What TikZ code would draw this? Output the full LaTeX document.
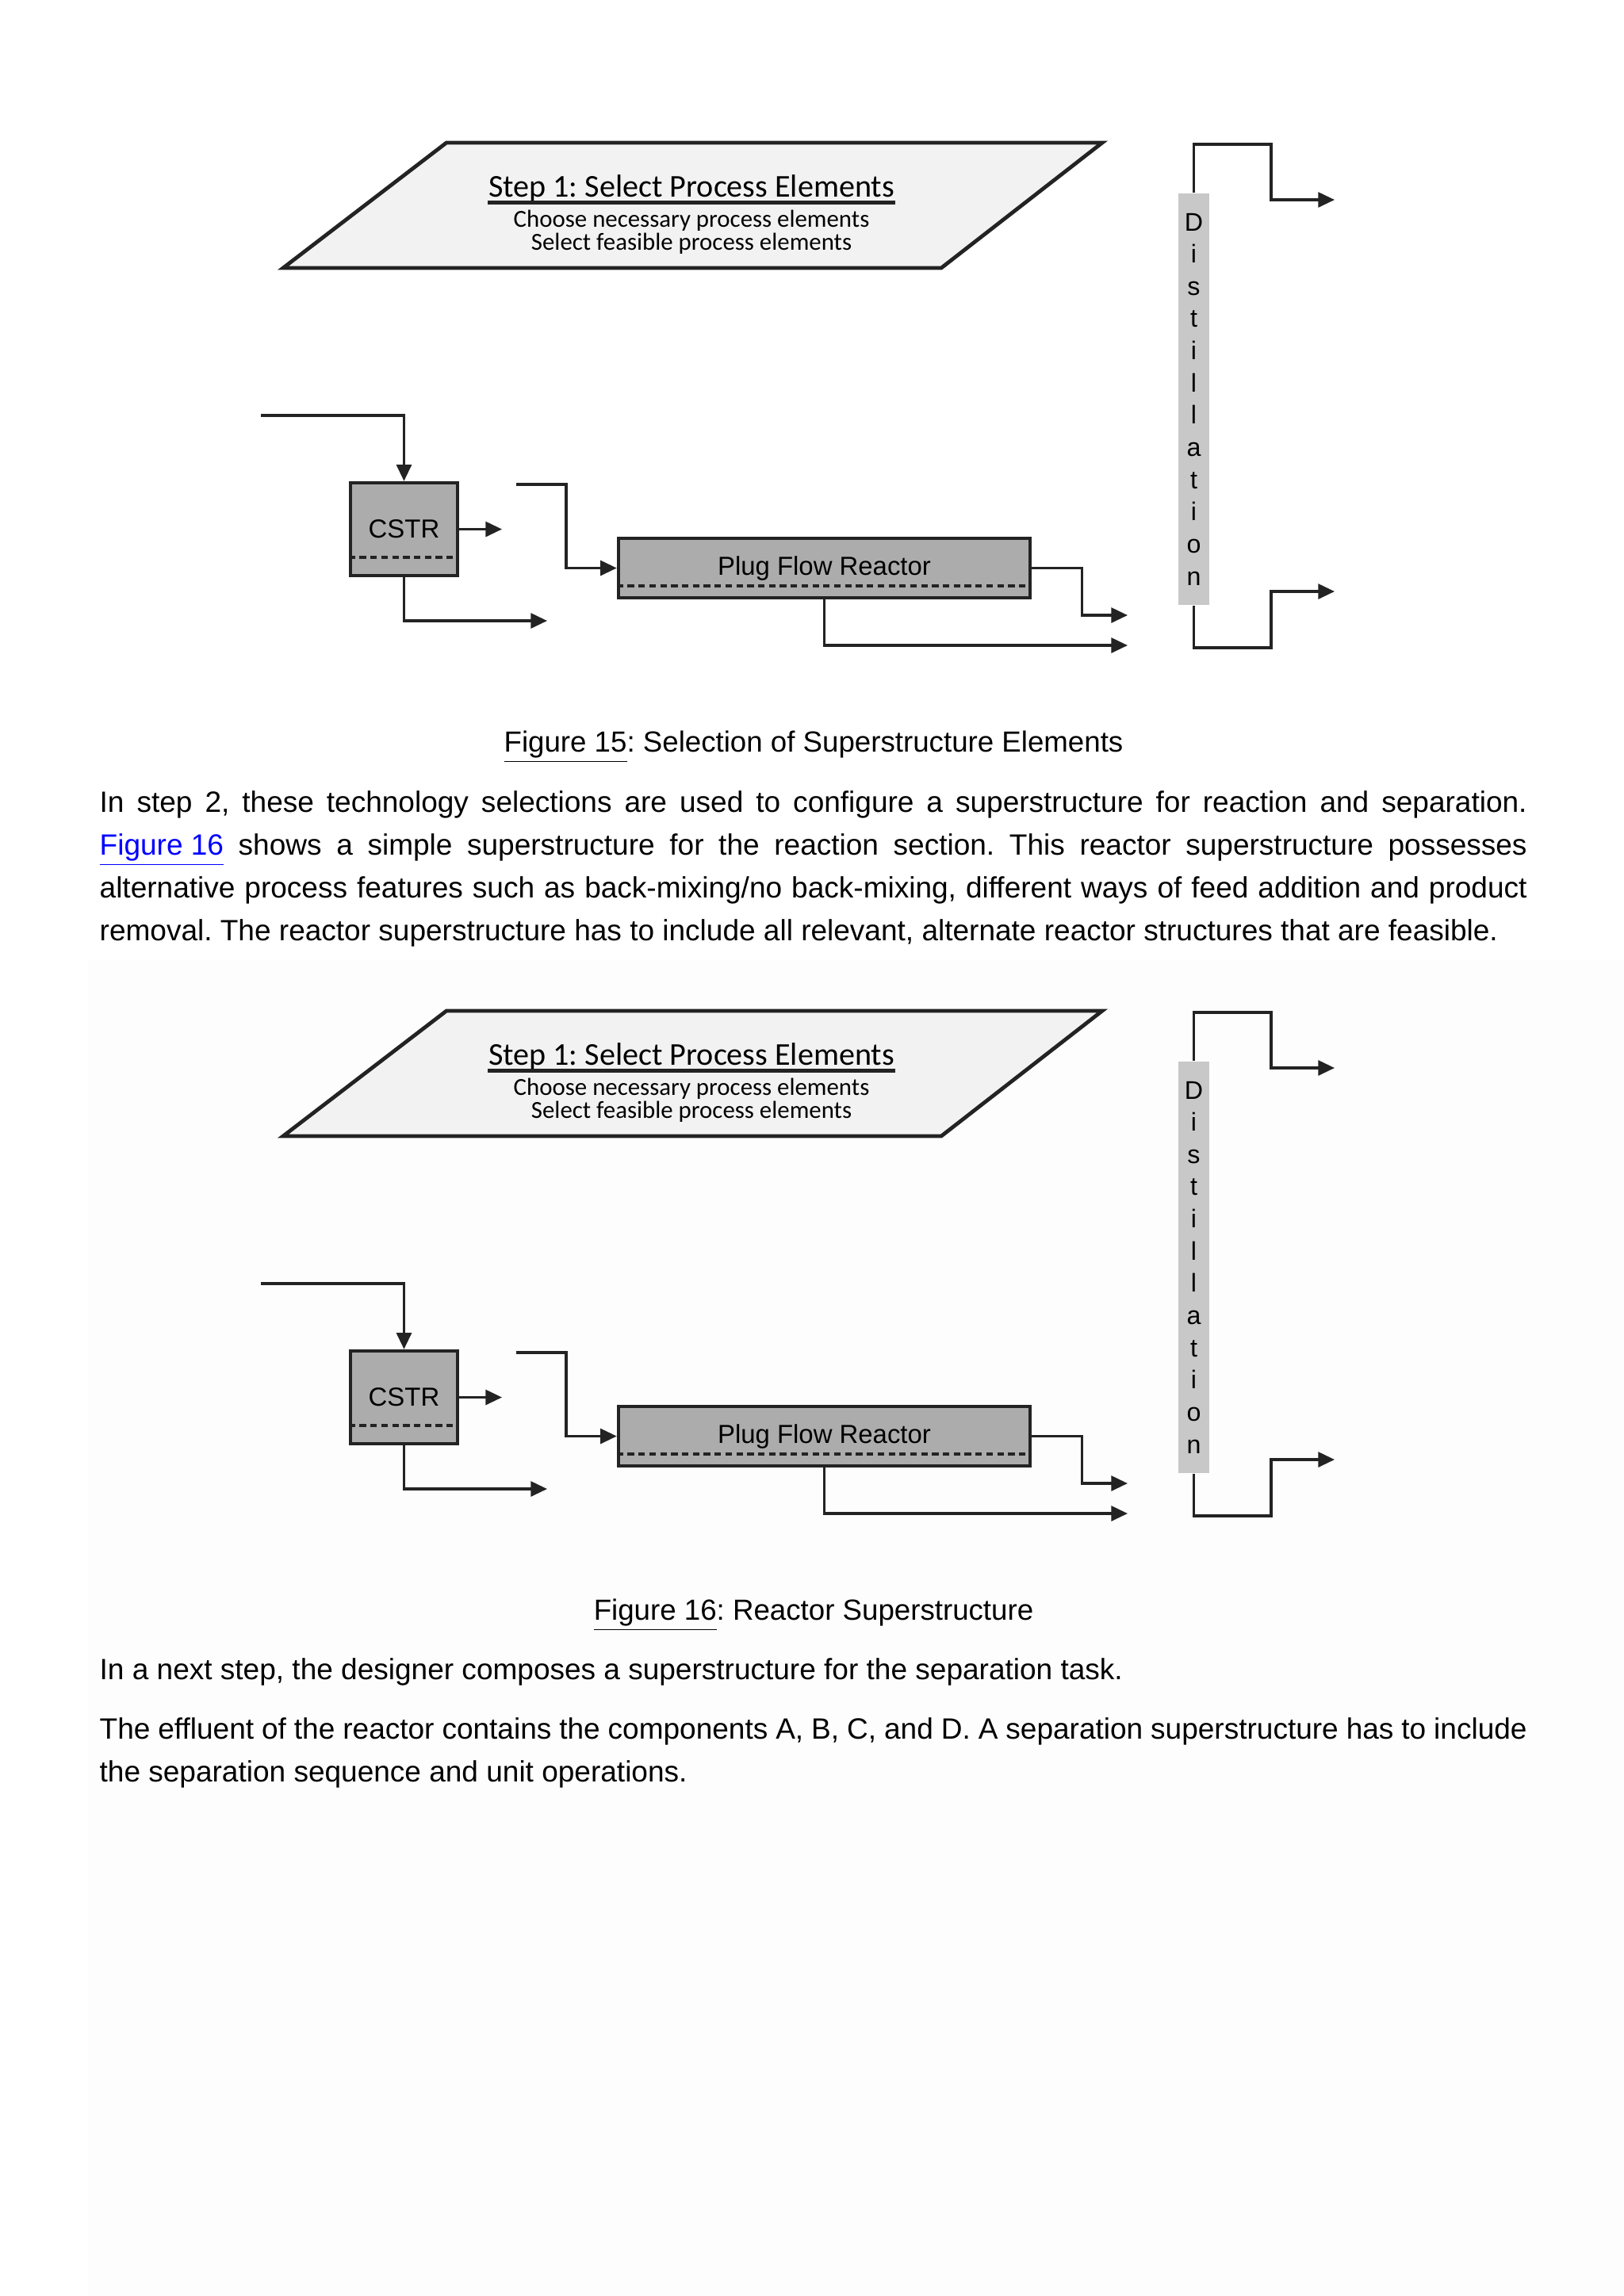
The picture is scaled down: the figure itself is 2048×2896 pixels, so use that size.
\documentclass[tikz,border=0pt]{standalone}
\usepackage{fontspec}
\setmainfont{Liberation Sans}
\newfontfamily\stepfont{Carlito}
\usetikzlibrary{positioning, arrows.meta, calc}
\frenchspacing

\definecolor{linkblue}{RGB}{0,0,255}
\definecolor{unitgrey}{RGB}{172,172,172}
\definecolor{colgrey}{RGB}{200,200,200}
\definecolor{stepgrey}{RGB}{242,242,242}
\definecolor{pipegrey}{RGB}{35,35,35}
\definecolor{paper}{RGB}{253,253,254}

\begin{document}
\begin{tikzpicture}[x=0.010254cm, y=-0.010254cm,
        stepbox/.style={draw=pipegrey, line width=1.4pt, fill=stepgrey},
        steptitle/.style={font=\stepfont\fontsize{11.7}{13}\selectfont, inner xsep=0pt, inner ysep=0pt},
        stepline/.style={font=\stepfont\fontsize{9}{8.5}\selectfont, align=center, inner sep=1pt},
        titlerule/.style={draw=pipegrey, line width=1.4pt},
        unit/.style={draw=pipegrey, line width=1.3pt, fill=unitgrey, rectangle, inner sep=0pt, font=\fontsize{9.6}{11}\selectfont},
        column/.style={fill=colgrey, rectangle, inner sep=0pt, minimum width=0.400cm, minimum height=5.322cm},
        collabel/.style={font=\fontsize{9.4}{11.86}\selectfont, align=center, inner sep=0pt},
        pipe/.style={draw=pipegrey, line width=0.9pt},
        stream/.style={pipe, -{Triangle[length=6pt, width=5.5pt]}},
        holdup/.style={draw=pipegrey, line width=1.2pt, dash pattern=on 2.4pt off 1.6pt},
        caption/.style={font=\fontsize{10.7}{15.8}\selectfont, anchor=base, inner sep=0pt},
        bodytext/.style={font=\fontsize{10.8}{15.8}\selectfont, text width=18.457cm, align=justify, anchor=north west, inner sep=0pt}
    ]

    % Seite
    \useasboundingbox (0,0) rectangle (2048,2896);
    \fill[white] (0,0) rectangle (2048,2896);
    \fill[paper] (111,1210) rectangle (2048,2896);

    % zwei gleiche Bilder
    \foreach \f/\dy/\capt in {15/0/{Selection of Superstructure Elements}, 16/1095/{Reactor Superstructure}} {
        \begin{scope}[shift={(0,\dy)}]
            % Schritt 1
            \draw[stepbox] (563,180) -- (1390,180) -- (1187,338) -- (357,338) -- cycle;
            \node[steptitle] (title\f) at (872,238) {Step 1: Select Process Elements};
            \draw[titlerule] (title\f.south west) -- (title\f.south east);
            \node[stepline, below=1.5pt of title\f] (choose\f) {Choose necessary process elements\\Select feasible process elements};

            % Apparate
            \node[unit, minimum width=1.384cm, minimum height=1.200cm] (cstr\f) at (509.5,667.5) {CSTR};
            \node[unit, minimum width=5.322cm, minimum height=0.769cm] (pfr\f) at (1039.5,716.5) {Plug Flow Reactor};
            \node[column] (col\f) at (1505.5,503.5) {};
            \node[collabel] (dist\f) at (col\f.center) {D\\i\\s\\t\\i\\l\\l\\a\\t\\i\\o\\n};
            \draw[holdup] ($(cstr\f.south west)+(0,-25)$) -- ($(cstr\f.south east)+(0,-25)$);
            \draw[holdup] ($(pfr\f.south west)+(0,-17)$) -- ($(pfr\f.south east)+(0,-17)$);

            % freie Enden
            \coordinate (feed\f) at (329,524);
            \coordinate (cstrside\f) at (633,667.5);
            \coordinate (cstrout\f) at (690,783);
            \coordinate (pfrfeed\f) at (651,611);
            \coordinate (pfrout\f) at (1422,776);
            \coordinate (pfrside\f) at (1422,814);
            \coordinate (topturn\f) at (1603,182);
            \coordinate (topout\f) at (1683,252);
            \coordinate (botturn\f) at (1603,817);
            \coordinate (botout\f) at (1683,746);

            % Stroeme
            \draw[stream] (feed\f) -| (cstr\f.north);
            \draw[stream] (cstr\f.east) -- (cstrside\f);
            \draw[stream] (cstr\f.south) |- (cstrout\f);
            \draw[stream] (pfrfeed\f) -- ++(63,0) |- (pfr\f.west);
            \draw[stream] (pfr\f.east) -- ++(63,0) |- (pfrout\f);
            \draw[stream] (pfr\f.south) |- (pfrside\f);
            \draw[stream] (col\f.north) |- (topturn\f) |- (topout\f);
            \draw[stream] (col\f.south) |- (botturn\f) |- (botout\f);

            % Bildunterschrift
            \node[caption] (cap\f) at (1026,948) {\underline{Figure \f}: \capt};
        \end{scope}
    }

    % Text
    \node[bodytext] (para1) at (125,985.5) {\hyphenpenalty=10000 \exhyphenpenalty=10000 \tolerance=9999 \strut In step 2, these technology selections are used to configure a superstructure for reaction and separation.\linebreak \textcolor{linkblue}{\underline{Figure 16}} shows a simple superstructure for the reaction section. This reactor superstructure possesses\linebreak alternative process features such as back-mixing/no back-mixing, different ways of feed addition and product\linebreak removal. The reactor superstructure has to include all relevant, alternate reactor structures that are feasible.};
    \node[bodytext] (para2) at (125,2079.5) {\strut In a next step, the designer composes a superstructure for the separation task.};
    \node[bodytext] (para3) at (125,2154.5) {\hyphenpenalty=10000 \tolerance=9999 \strut The effluent of the reactor contains the components A, B, C, and D. A separation superstructure has to include\linebreak the separation sequence and unit operations.};

\end{tikzpicture}
\end{document}
